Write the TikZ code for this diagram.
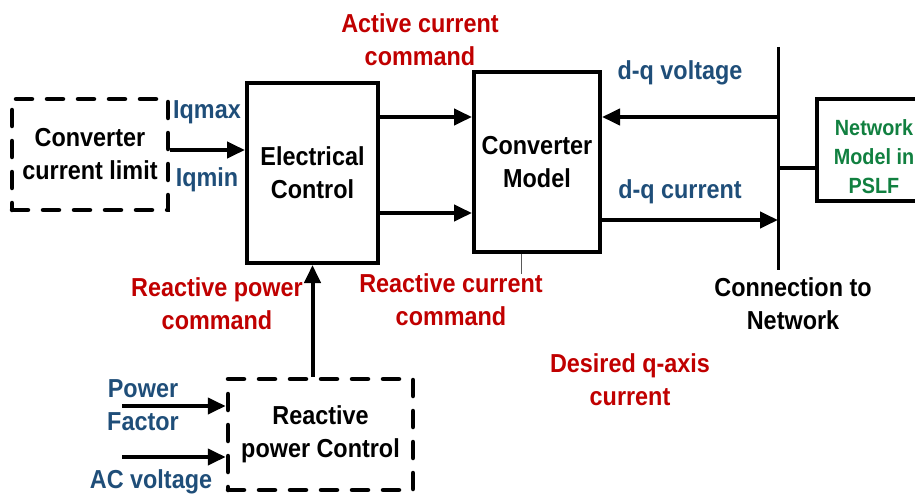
\documentclass[tikz,border=0pt]{standalone}
\usepackage{fontspec}
\setmainfont{Liberation Sans}[FakeStretch=0.9]
\usetikzlibrary{arrows.meta,calc}
\definecolor{cred}{HTML}{C00000}
\definecolor{cblue}{HTML}{1F4E79}
\definecolor{cgreen}{HTML}{118040}
\begin{document}
\begin{tikzpicture}[x=1pt,y=-1pt,
  txt/.style={font=\bfseries\fontsize{26}{33}\selectfont,align=center,inner sep=0pt},
  solidbox/.style={draw,line width=4pt,minimum width=#1},
  dashbox/.style={draw,line width=4.5pt,dash pattern=on 16pt off 15pt,line cap=round},
  arr/.style={line width=4pt,-{Triangle[length=18pt,width=16pt]}},
  redlbl/.style={txt,text=cred},
  bluelbl/.style={txt,text=cblue}]
\useasboundingbox (0,0) rectangle (915,495);
% boxes
\node[solidbox=131pt,minimum height=180pt,txt] (ec) at (312.5,173) {Electrical\\Control};
\node[solidbox=126pt,minimum height=180pt,txt] (cm) at (537,162) {Converter\\Model};
\node[dashbox,minimum width=156pt,minimum height=111pt,txt] (lim) at (90,154.5) {Converter\\current limit};
\node[dashbox,minimum width=185pt,minimum height=111pt,txt] (rpc) at (320.5,434.5) {Reactive\\power Control};
\node[draw,line width=4pt,minimum width=108pt,minimum height=102pt] (net) at (871,150) {};
\node[txt,font=\bfseries\fontsize{22}{29}\selectfont,text=cgreen] (nettxt) at (874,157) {Network\\Model in\\PSLF};
% bus
\coordinate (bt) at (778,47);
\coordinate (bb) at (778,270);
\draw[line width=3pt] (bt) -- (bb);
% connectors
\draw[arr] ([yshift=4.5pt]lim.east) -- ([yshift=4.5pt]lim.east -| ec.west);
\draw[arr] ([yshift=56pt]ec.east) -- ([yshift=56pt]ec.east -| cm.west);
\draw[arr] ([yshift=-40pt]ec.east) -- ([yshift=-40pt]ec.east -| cm.west);
\coordinate (vq) at ([yshift=45pt]cm.east);
\draw[arr] (bt |- vq) -- (vq);
\coordinate (iq) at ([yshift=-58pt]cm.east);
\draw[arr] (iq) -- (bt |- iq);
\coordinate (nl) at ([yshift=-18pt]net.west);
\draw[line width=4pt] (bt |- nl) -- (nl);
\draw[arr] (rpc.north -| ec.south) -- (ec.south);
\coordinate (pf) at (122,406);
\coordinate (ac) at (122,457);
\draw[arr] (pf) -- (pf -| rpc.west);
\draw[arr] (ac) -- (ac -| rpc.west);
\coordinate (tk) at ([xshift=-16pt]cm.south);
\draw[line width=0.7pt,gray!70!black] (tk) -- ++(0,20);
% labels
\node[bluelbl] (l1) at (207,112) {Iqmax};
\node[bluelbl] (l2) at (207,180) {Iqmin};
\node[redlbl] (l3) at (420,39.5) {Active current\\command};
\node[redlbl] (l4) at (451,299.5) {Reactive current\\command};
\node[redlbl] (l5) at (630,379.5) {Desired q-axis\\current};
\node[redlbl] (l6) at (217,303.5) {Reactive power\\command};
\node[bluelbl] (l7) at (680,73) {d-q voltage};
\node[bluelbl] (l8) at (680,192) {d-q current};
\node[txt] (l9) at (793,303.5) {Connection to\\Network};
\node[bluelbl] (l10) at (143,405) {Power\\Factor};
\node[bluelbl] (l11) at (151,482) {AC voltage};
\end{tikzpicture}
\end{document}
